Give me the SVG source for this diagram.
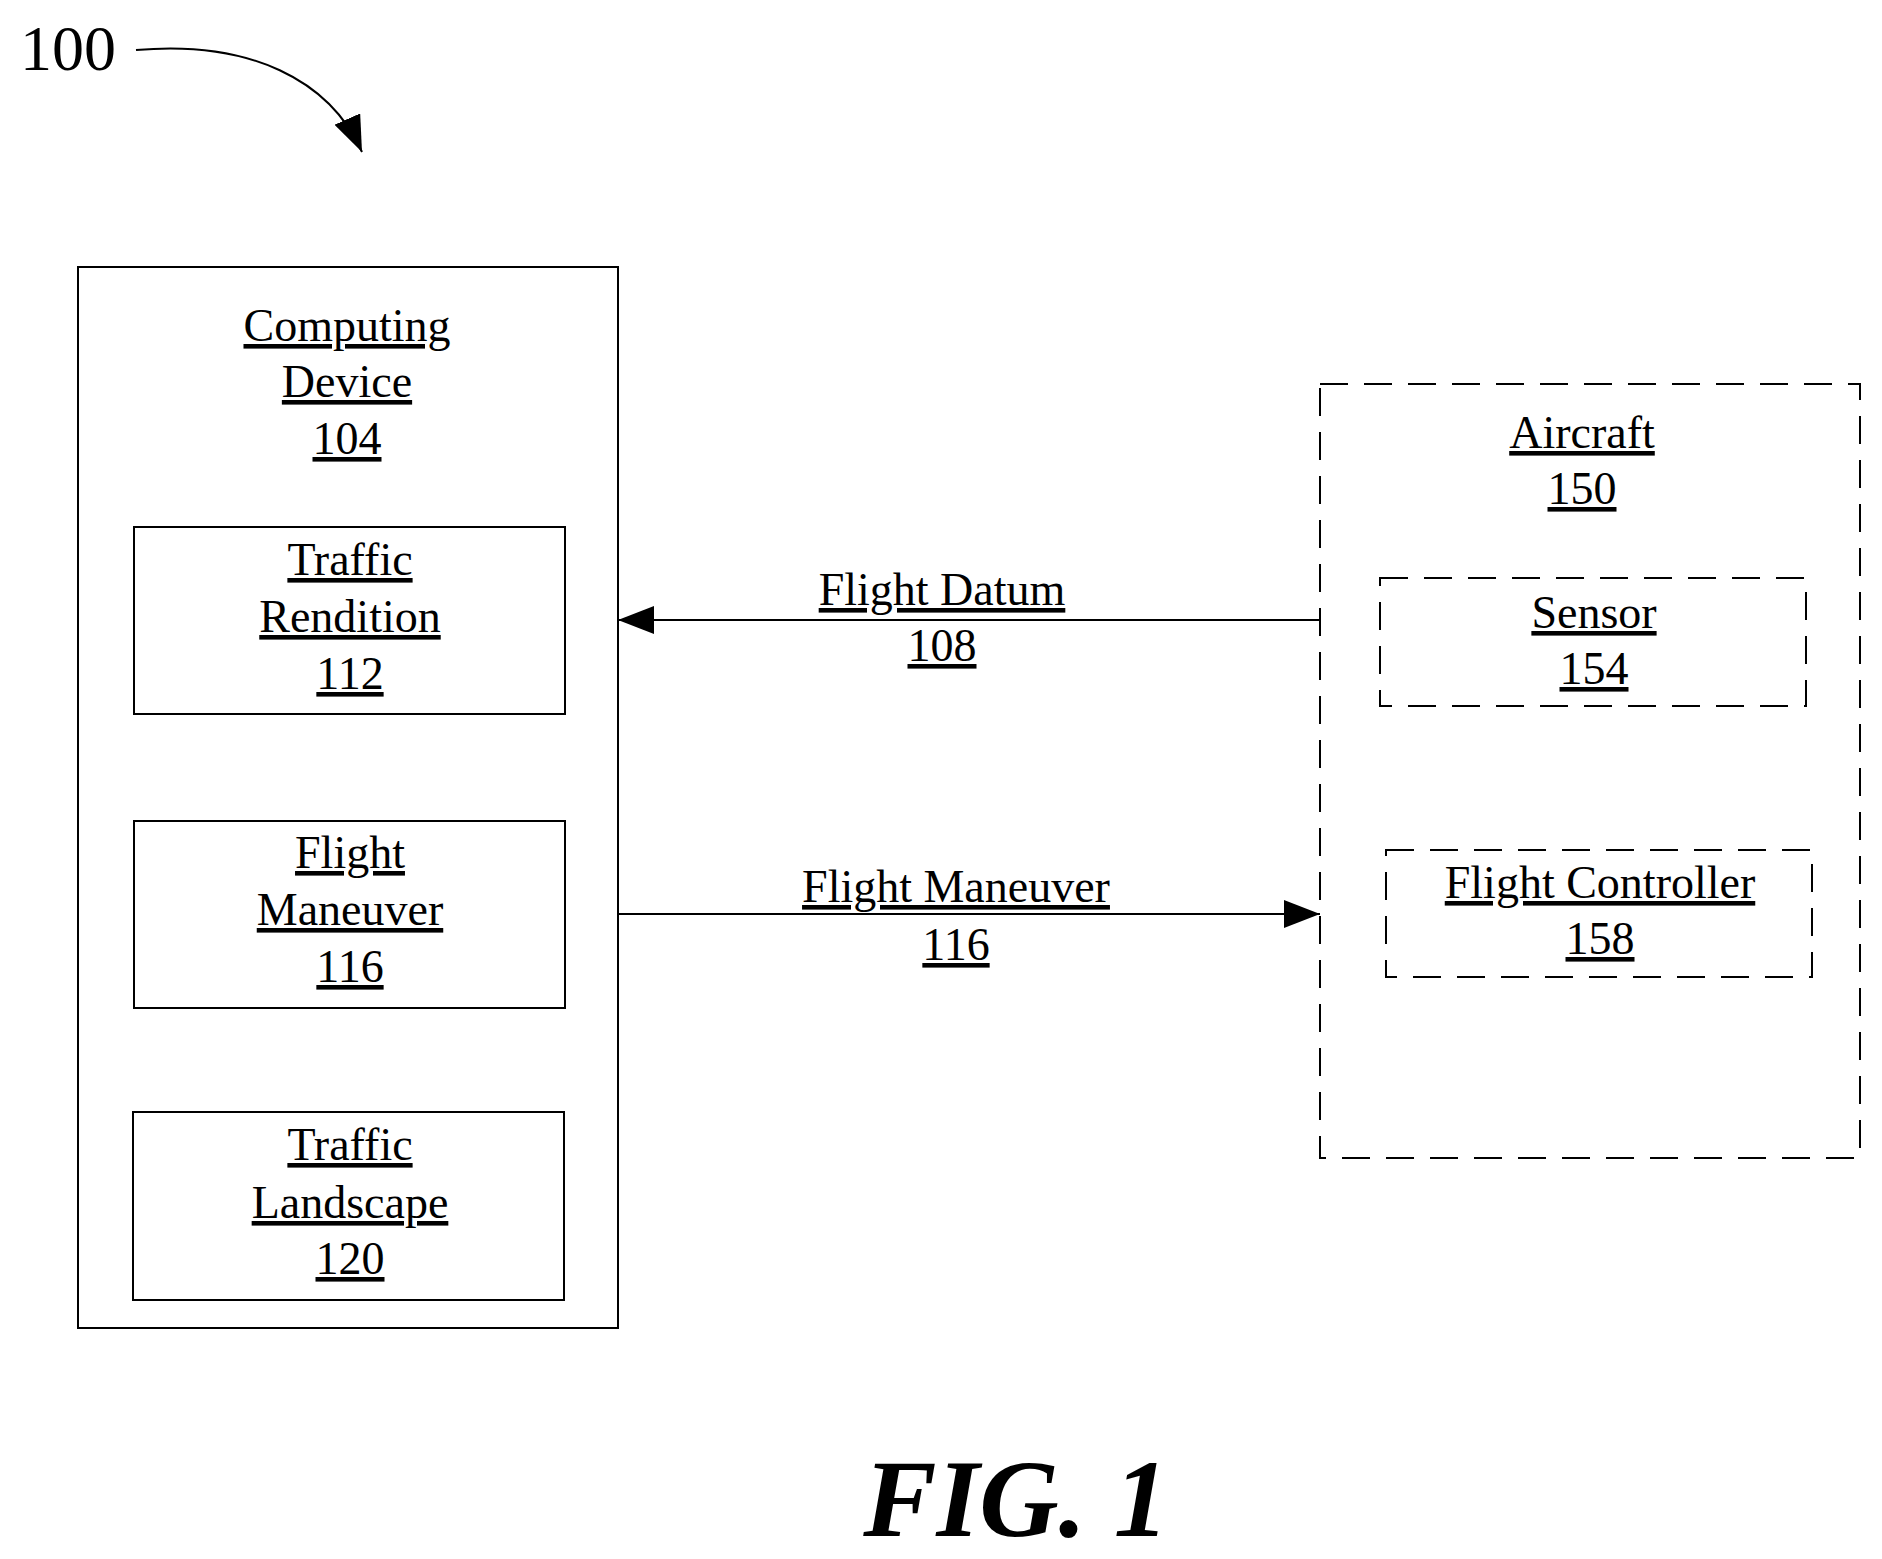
<svg xmlns="http://www.w3.org/2000/svg" width="1882" height="1559" viewBox="0 0 1882 1559">
<style>
text{font-family:"Liberation Serif","Times New Roman",serif;font-size:46px;text-anchor:middle;fill:#000;text-decoration:underline}
.b{fill:#fff;stroke:#000;stroke-width:2}
.d{fill:none;stroke:#000;stroke-width:2;stroke-dasharray:28 16}
.c{stroke:#000;stroke-width:2;fill:none}
</style>
<defs><marker id="a" markerWidth="10" markerHeight="8" refX="10" refY="4" orient="auto" markerUnits="userSpaceOnUse" viewBox="0 0 10 8"><path d="M0,0L10,4L0,8z"/></marker>
<marker id="m" viewBox="0 0 36 28" refX="36" refY="14" markerWidth="36" markerHeight="28" orient="auto" markerUnits="userSpaceOnUse"><path d="M0,0L36,14L0,28z"/></marker></defs>
<text x="68" y="70" style="font-size:64px;text-decoration:none">100</text>
<path class="c" d="M136,50 C250,40 330,80 362,152" marker-end="url(#m)"/>
<g id="computing"><rect class="b" x="78" y="267" width="540" height="1061"/>
<text x="347" y="341">Computing</text><text x="347" y="397">Device</text><text x="347" y="454">104</text></g>
<g id="rendition"><rect class="b" x="134" y="527" width="431" height="187"/>
<text x="350" y="575">Traffic</text><text x="350" y="632">Rendition</text><text x="350" y="689">112</text></g>
<g id="maneuver"><rect class="b" x="134" y="821" width="431" height="187"/>
<text x="350" y="868">Flight</text><text x="350" y="925">Maneuver</text><text x="350" y="982">116</text></g>
<g id="landscape"><rect class="b" x="133" y="1112" width="431" height="188"/>
<text x="350" y="1160">Traffic</text><text x="350" y="1218">Landscape</text><text x="350" y="1274">120</text></g>
<g id="aircraft"><rect class="d" x="1320" y="384" width="540" height="774"/>
<text x="1582" y="448">Aircraft</text><text x="1582" y="504">150</text></g>
<g id="sensor"><rect class="d" x="1380" y="578" width="426" height="128"/>
<text x="1594" y="628">Sensor</text><text x="1594" y="684">154</text></g>
<g id="controller"><rect class="d" x="1386" y="850" width="426" height="127"/>
<text x="1600" y="898">Flight Controller</text><text x="1600" y="954">158</text></g>
<g id="connectors">
<line class="c" x1="1320" y1="620" x2="618" y2="620" marker-end="url(#m)"/>
<line class="c" x1="618" y1="914" x2="1320" y2="914" marker-end="url(#m)"/>
<text x="942" y="605">Flight Datum</text><text x="942" y="661">108</text>
<text x="956" y="902">Flight Maneuver</text><text x="956" y="960">116</text>
</g>
<text x="1016" y="1536" style="font-size:110px;font-style:italic;font-weight:bold;text-decoration:none">FIG. 1</text>
</svg>
